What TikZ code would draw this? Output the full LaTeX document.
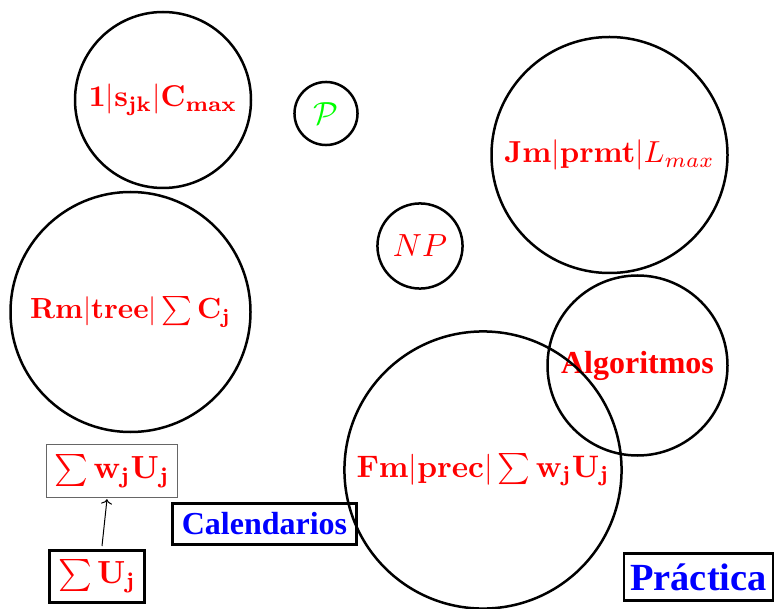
\documentclass[tikz,border=0pt]{standalone}
\usepackage{amsmath}
\usepackage{graphicx}
\usepackage[no-math]{fontspec}
\usetikzlibrary{arrows.meta}
\newfontfamily\tnr{Liberation Serif}
\begin{document}
\begin{tikzpicture}[x=1pt,y=-1pt,
  ring/.style={draw,circle,line width=2.5pt,inner sep=0pt,text=red,scale=3.2},
  thickbox/.style={draw,rectangle,line width=2.8pt,inner sep=0pt,scale=3.2},
  thinbox/.style={draw=black!60,rectangle,line width=1pt,inner sep=0pt,scale=3.2},
  tword/.style={font=\tnr\bfseries}]
\useasboundingbox (0,0) rectangle (776,609);
\node[ring,minimum size=55pt] (c1) at (163,100) {\scalebox{0.94}{$\mathbf{1|s_{jk}|C_{max}}$}};
\node[ring,minimum size=19.7pt,text=green] (p) at (326,113.5) {$\mathcal{P}$};
\node[ring,minimum size=73.75pt] (jm) at (609.5,155) {\scalebox{0.95}{$\mathbf{Jm}|\mathbf{prmt}|L_{max}$}};
\node[ring,minimum size=26.6pt] (np) at (420,246) {$NP$};
\node[ring,minimum size=75pt] (rm) at (130.5,312) {\scalebox{0.91}{$\mathbf{Rm|tree|\sum C_j}$}};
\node[ring,minimum size=56.25pt,tword] (alg) at (637.5,365.5) {Algoritmos};
\node[ring,minimum size=86.6pt] (fm) at (483,470) {\scalebox{0.97}{$\mathbf{Fm|prec|\sum w_jU_j}$}};
\node[thinbox,minimum width=40.9pt,minimum height=16.6pt,text=red] (wu) at (112,471) {$\mathbf{\sum w_jU_j}$};
\node[thickbox,minimum width=29.7pt,minimum height=16.25pt,text=red] (u) at (97,576.5) {$\mathbf{\sum U_j}$};
\node[thickbox,minimum width=57.5pt,minimum height=12.8pt,text=blue,tword] (cal) at (264.5,524) {Calendarios};
\node[thickbox,minimum width=46.6pt,minimum height=14.7pt,text=blue,font=\tnr\bfseries\large] (pr) at (698.5,577) {Práctica};
\draw[-{Computer Modern Rightarrow[length=5pt,width=11pt]},line width=1pt] ([xshift=5pt]u.north) -- ([xshift=-5pt]wu.south);
\end{tikzpicture}
\end{document}
